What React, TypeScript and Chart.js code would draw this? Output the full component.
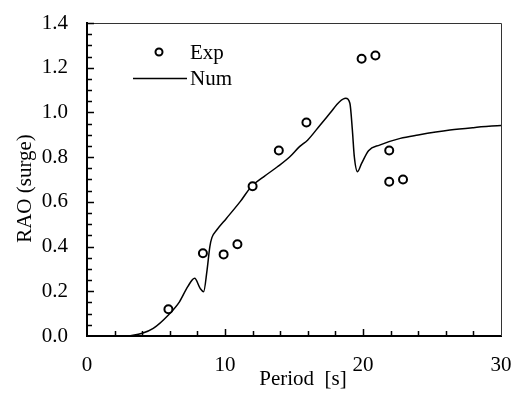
import React, { useEffect, useRef } from "react";
import { Chart, registerables } from "chart.js";

Chart.register(...registerables);

const expPeriod = [5.9, 8.4, 9.9, 10.9, 12.0, 13.9, 15.9, 19.9, 20.9, 21.9, 21.9, 22.9];
const expRao = [0.12, 0.37, 0.365, 0.41, 0.67, 0.83, 0.955, 1.24, 1.255, 0.83, 0.69, 0.7];

const numPeriod = [3.0, 4.0, 4.8, 5.9, 6.7, 7.3, 7.8, 8.2, 8.45, 8.7, 8.9, 9.05, 9.4, 10.1, 11.1, 11.9, 12.8, 13.8, 14.7, 15.4, 16.0, 16.9, 17.6, 18.3, 18.75, 19.05, 19.23, 19.37, 19.6, 19.9, 20.4, 21.2, 22.7, 24.0, 26.3, 28.0, 30.0];
const numRao = [0.0, 0.012, 0.034, 0.094, 0.153, 0.221, 0.258, 0.213, 0.198, 0.295, 0.399, 0.44, 0.474, 0.526, 0.601, 0.668, 0.712, 0.757, 0.802, 0.847, 0.877, 0.944, 0.996, 1.048, 1.063, 1.041, 0.921, 0.802, 0.735, 0.772, 0.829, 0.854, 0.884, 0.899, 0.921, 0.932, 0.942];

const xTickValues = [0, 10, 20, 30];
const yTickValues = [0, 0.2, 0.4, 0.6, 0.8, 1.0, 1.2, 1.4];
const xMinorStep = 2;
const yMinorStep = 0.05;

const seriesNames = ["Exp", "Num"];
const xTitle = "Period  [s]";
const yTitle = "RAO (surge)";

const FONT = "'Liberation Serif', 'Times New Roman', serif";
const FS = 21;

const decorPlugin = {
  id: "decor",
  afterDraw(chart: any) {
    const { ctx, chartArea: a, scales } = chart;
    const x = scales.x;
    const y = scales.y;
    ctx.save();
    // top & right frame
    ctx.strokeStyle = "#333";
    ctx.lineWidth = 1;
    ctx.beginPath();
    ctx.moveTo(a.left, a.top + 0.5);
    ctx.lineTo(a.right + 0.5, a.top + 0.5);
    ctx.lineTo(a.right + 0.5, a.bottom);
    ctx.stroke();

    // inward ticks
    ctx.strokeStyle = "#000";
    ctx.lineWidth = 1.5;
    ctx.beginPath();
    const yMax = yTickValues[yTickValues.length - 1];
    const nY = Math.round(yMax / yMinorStep);
    for (let i = 1; i <= nY; i++) {
      const v = i * yMinorStep;
      const py = Math.round(y.getPixelForValue(v)) + 0.5;
      const major = yTickValues.some((t) => Math.abs(t - v) < 1e-6);
      const len = major ? 7 : 5;
      ctx.moveTo(a.left, py);
      ctx.lineTo(a.left + len, py);
    }
    const xMax = xTickValues[xTickValues.length - 1];
    const nX = Math.round(xMax / xMinorStep);
    for (let i = 1; i < nX; i++) {
      const v = i * xMinorStep;
      const px = Math.round(x.getPixelForValue(v)) + 0.5;
      const major = xTickValues.some((t) => Math.abs(t - v) < 1e-6);
      const len = major ? 7 : 5;
      ctx.moveTo(px, a.bottom);
      ctx.lineTo(px, a.bottom - len);
    }
    ctx.stroke();

    // axis titles
    ctx.fillStyle = "#000";
    ctx.font = `${FS}px ${FONT}`;
    ctx.textAlign = "center";
    ctx.textBaseline = "alphabetic";
    ctx.fillText(xTitle, (a.left + a.right) / 2 + 9, a.bottom + 49);
    ctx.save();
    ctx.translate(31, (a.top + a.bottom) / 2 + 9);
    ctx.rotate(-Math.PI / 2);
    ctx.fillText(yTitle, 0, 0);
    ctx.restore();

    // legend
    const lx = a.left;
    const ly = a.top;
    ctx.textAlign = "left";
    ctx.textBaseline = "middle";
    ctx.beginPath();
    ctx.lineWidth = 2;
    ctx.strokeStyle = "#000";
    ctx.fillStyle = "#fff";
    ctx.arc(lx + 72, ly + 29, 3.5, 0, Math.PI * 2);
    ctx.fill();
    ctx.stroke();
    ctx.fillStyle = "#000";
    ctx.fillText(seriesNames[0], lx + 103, ly + 30);
    ctx.beginPath();
    ctx.lineWidth = 1.5;
    ctx.moveTo(lx + 46, ly + 55.5);
    ctx.lineTo(lx + 100, ly + 55.5);
    ctx.stroke();
    ctx.fillText(seriesNames[1], lx + 103, ly + 56);
    ctx.restore();
  },
};

const zeroPad = (s: any) => {
  s.paddingTop = 0;
  s.paddingBottom = 0;
  s.paddingLeft = 0;
  s.paddingRight = 0;
};

export default function App() {
  const ref = useRef<HTMLCanvasElement | null>(null);
  useEffect(() => {
    if (!ref.current) return;
    const chart = new Chart(ref.current, {
      type: "scatter",
      data: {
        datasets: [
          {
            label: seriesNames[1],
            data: numPeriod.map((p, i) => ({ x: p, y: numRao[i] })),
            showLine: true,
            borderColor: "#000",
            borderWidth: 1.5,
            pointRadius: 0,
            cubicInterpolationMode: "monotone",
            order: 2,
          },
          {
            label: seriesNames[0],
            data: expPeriod.map((p, i) => ({ x: p, y: expRao[i] })),
            showLine: false,
            pointRadius: 4,
            pointBorderWidth: 2,
            pointBorderColor: "#000",
            pointBackgroundColor: "#fff",
            order: 1,
          },
        ],
      },
      options: {
        responsive: false,
        maintainAspectRatio: false,
        animation: false,
        devicePixelRatio: 1,
        layout: { padding: { top: 23, right: 12, left: 0, bottom: 0 } },
        plugins: { legend: { display: false }, tooltip: { enabled: false } },
        scales: {
          x: {
            type: "linear",
            min: 0,
            max: 30,
            afterFit: (s: any) => {
              s.height = 58;
              zeroPad(s);
            },
            afterBuildTicks: (s: any) => {
              s.ticks = xTickValues.map((v) => ({ value: v }));
            },
            grid: { display: false, drawTicks: false },
            border: { display: true, color: "#000", width: 2 },
            ticks: {
              padding: 17,
              color: "#000",
              font: { family: FONT, size: FS },
              maxRotation: 0,
              callback: (v: any) => String(v),
            },
          },
          y: {
            type: "linear",
            min: 0,
            max: 1.4,
            afterFit: (s: any) => {
              s.width = 87;
              zeroPad(s);
            },
            afterBuildTicks: (s: any) => {
              s.ticks = yTickValues.map((v) => ({ value: v }));
            },
            grid: { display: false, drawTicks: false },
            border: { display: true, color: "#000", width: 2 },
            ticks: {
              padding: 19,
              color: "#000",
              font: { family: FONT, size: FS },
              callback: (v: any) => Number(v).toFixed(1),
            },
          },
        },
      },
      plugins: [decorPlugin],
    } as any);
    return () => chart.destroy();
  }, []);
  return (
    <div style={{ position: "absolute", left: 0, top: 0, width: 513, height: 394 }}>
      <canvas ref={ref} width={513} height={394} style={{ display: "block" }} />
    </div>
  );
}
